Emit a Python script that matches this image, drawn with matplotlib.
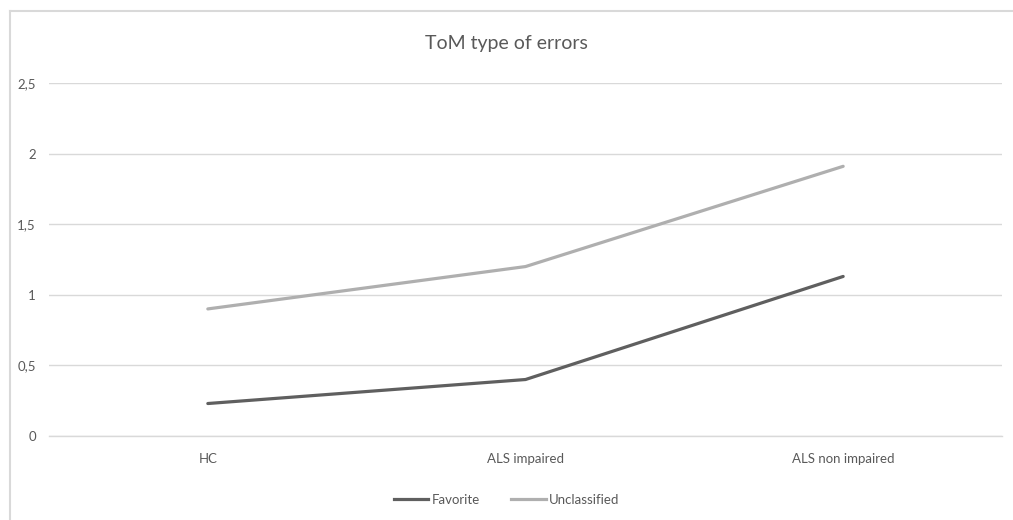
import matplotlib
matplotlib.use("Agg")
import matplotlib.pyplot as plt
from matplotlib.lines import Line2D
from matplotlib.ticker import FuncFormatter

groups = ["HC", "ALS impaired", "ALS non impaired"]
favorite = [0.23, 0.40, 1.13]
unclassified = [0.90, 1.20, 1.91]
y_ticks = [0, 0.5, 1, 1.5, 2, 2.5]

plt.rcParams["font.family"] = ["Lato", "DejaVu Sans"]
text_col = "#595959"
grid_col = "#d9d9d9"

fig = plt.figure(figsize=(10.13, 5.2), dpi=100)
ax = fig.add_axes([49 / 1013, 84 / 520, (1002 - 49) / 1013, (436 - 83) / 520])

x = list(range(len(groups)))
ax.plot(x, favorite, color="#5f5f5f", lw=2.3, label="Favorite", solid_capstyle="round")
ax.plot(x, unclassified, color="#afafaf", lw=2.3, label="Unclassified", solid_capstyle="round")

ax.set_xlim(-0.5, len(groups) - 0.5)
ax.set_ylim(0, 2.5)
ax.set_yticks(y_ticks)
ax.yaxis.set_major_formatter(FuncFormatter(lambda v, p: f"{v:g}".replace(".", ",")))
ax.set_xticks(x)
ax.set_xticklabels(groups)
ax.grid(axis="y", color=grid_col, lw=1)
ax.axhline(0, color=grid_col, lw=1, clip_on=False, zorder=0.5)
ax.set_axisbelow(True)
for s in ax.spines.values():
    s.set_visible(False)
ax.tick_params(length=0, colors=text_col, labelsize=9.5)
ax.tick_params(axis="y", pad=9.5)
ax.tick_params(axis="x", pad=12)

fig.text(0.5, 1 - 43 / 520, "ToM type of errors", ha="center", va="center",
         fontsize=14, color=text_col)

leg = fig.legend(handles=[Line2D([], [], color="#5f5f5f", lw=2.3),
                          Line2D([], [], color="#afafaf", lw=2.3)],
                 labels=["Favorite", "Unclassified"],
                 loc="center", bbox_to_anchor=(0.5, 1 - 500 / 520), ncol=2,
                 frameon=False, fontsize=9.5, handlelength=2.6, handletextpad=0.25,
                 columnspacing=2.4)
for t in leg.get_texts():
    t.set_color(text_col)

# outer chart frame (top and left edges)
fig.add_artist(Line2D([10 / 1013, 1], [1 - 11 / 520] * 2, transform=fig.transFigure,
                      color=grid_col, lw=1.5))
fig.add_artist(Line2D([10 / 1013] * 2, [0, 1 - 11 / 520], transform=fig.transFigure,
                      color=grid_col, lw=1.5))

fig.savefig("out.png", dpi=100)
